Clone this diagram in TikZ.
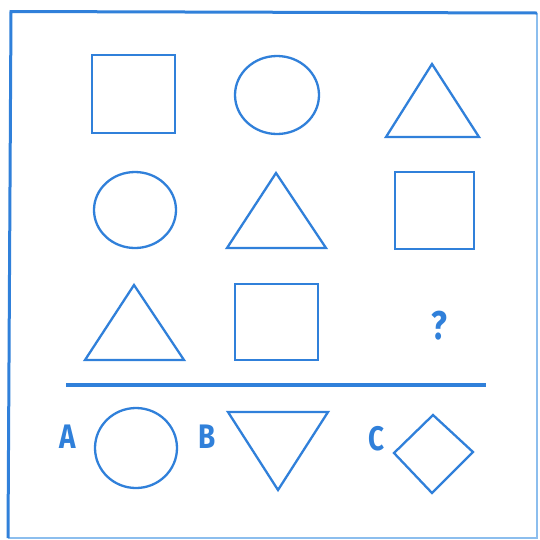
\documentclass[tikz,border=0pt]{standalone}
\usepackage{fontspec}
\setmainfont{Fira Sans}
\definecolor{ink}{RGB}{48,128,218}
\definecolor{faint}{RGB}{140,190,238}
\tikzset{
  figline/.style={draw=ink, line width=2.3pt, line join=miter},
  lbl/.style={text=ink, font=\fontsize{34}{34}\selectfont\bfseries, inner sep=0pt, xscale=0.82},
}
\begin{document}
\begin{tikzpicture}[x=1pt,y=-1pt]
\useasboundingbox (0,0) rectangle (540,539);
\fill[white] (0,0) rectangle (540,539);
% frame
\draw[faint, line width=2pt] (8,537.5) -- (537,537.5) -- (537,13);
\draw[ink, line width=3pt] (8,538) -- (11,11.5) -- (537,13);
% row 1
\draw[figline] (92,55) rectangle (175,133);
\draw[figline] (277,95) ellipse [x radius=42, y radius=39];
\draw[figline] (432,64) -- (479,137) -- (386,137) -- cycle;
% row 2
\draw[figline] (135,210) ellipse [x radius=41, y radius=38];
\draw[figline] (276,173) -- (326,248) -- (227,248) -- cycle;
\draw[figline] (395,172) rectangle (474,249);
% row 3
\draw[figline] (134,285) -- (184,360) -- (85,360) -- cycle;
\draw[figline] (235,284) rectangle (318,360);
\node[lbl, font=\fontsize{40}{40}\selectfont\bfseries] (q) at (439,326) {?};
% separator
\coordinate (l1) at (66,385);
\coordinate (l2) at (486,385);
\draw[ink, line width=3.2pt] (l1) -- (l2);
% answers
\node[lbl] (A) at (68,437) {A};
\draw[figline] (136,448) ellipse [x radius=41, y radius=40];
\node[lbl] (B) at (207,437) {B};
\draw[figline] (228,412) -- (328,412) -- (278,490) -- cycle;
\node[lbl] (C) at (377,439) {C};
\draw[figline] (433,415) -- (473,452) -- (432,493) -- (394,453) -- cycle;
\end{tikzpicture}
\end{document}
